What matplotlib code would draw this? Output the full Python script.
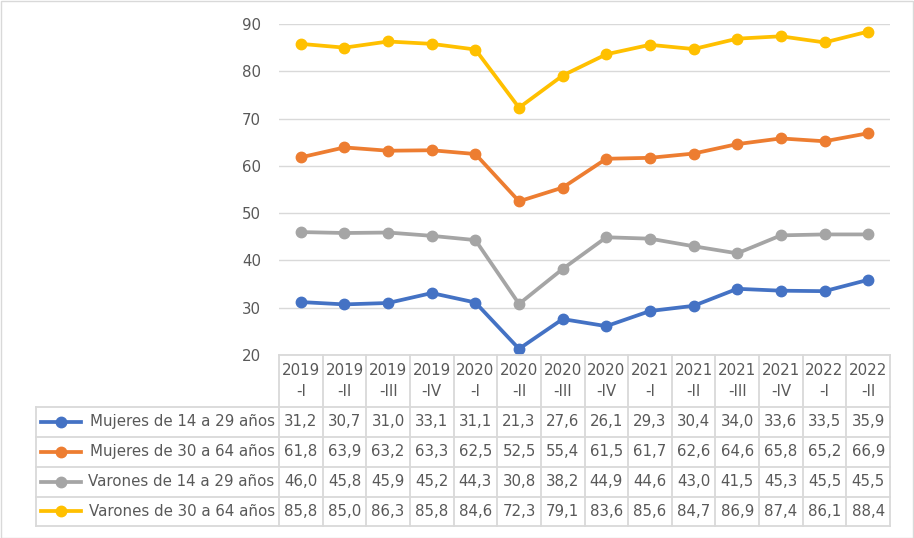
import matplotlib.pyplot as plt
from matplotlib.patches import Rectangle

periods = ["2019\n-I", "2019\n-II", "2019\n-III", "2019\n-IV",
           "2020\n-I", "2020\n-II", "2020\n-III", "2020\n-IV",
           "2021\n-I", "2021\n-II", "2021\n-III", "2021\n-IV",
           "2022\n-I", "2022\n-II"]

mujeres_14_29 = [31.2, 30.7, 31.0, 33.1, 31.1, 21.3, 27.6, 26.1, 29.3, 30.4, 34.0, 33.6, 33.5, 35.9]
mujeres_30_64 = [61.8, 63.9, 63.2, 63.3, 62.5, 52.5, 55.4, 61.5, 61.7, 62.6, 64.6, 65.8, 65.2, 66.9]
varones_14_29 = [46.0, 45.8, 45.9, 45.2, 44.3, 30.8, 38.2, 44.9, 44.6, 43.0, 41.5, 45.3, 45.5, 45.5]
varones_30_64 = [85.8, 85.0, 86.3, 85.8, 84.6, 72.3, 79.1, 83.6, 85.6, 84.7, 86.9, 87.4, 86.1, 88.4]

series = [
    ("Mujeres de 14 a 29 años", mujeres_14_29, "#4472C4"),
    ("Mujeres de 30 a 64 años", mujeres_30_64, "#ED7D31"),
    ("Varones de 14 a 29 años", varones_14_29, "#A5A5A5"),
    ("Varones de 30 a 64 años", varones_30_64, "#FFC000"),
]

W, H = 914, 538
TEXT = "#595959"
GRID = "#D9D9D9"
FS = 10.8

fig = plt.figure(figsize=(W / 100, H / 100), dpi=100)
fig.add_artist(Rectangle((0.5 / W, 0.5 / H), (W - 1.5) / W, (H - 1.5) / H,
                         transform=fig.transFigure, fill=False, ec=GRID, lw=1))

px_left, px_right, px_top, px_bot = 279, 890, 24, 355
ax = fig.add_axes([px_left / W, 1 - px_bot / H, (px_right - px_left) / W, (px_bot - px_top) / H])
n = len(periods)
x = list(range(n))
for name, vals, col in series:
    ax.plot(x, vals, color=col, lw=2.7, marker="o", ms=7.5, solid_capstyle="round")
ax.set_xlim(-0.5, n - 0.5)
ax.set_ylim(20, 90)
ax.set_yticks(range(20, 91, 10))
ax.set_xticks([])
ax.grid(axis="y", color=GRID, lw=1)
ax.set_axisbelow(True)
for s in ax.spines.values():
    s.set_visible(False)
ax.tick_params(axis="y", length=0, pad=13, labelsize=FS, labelcolor=TEXT)

# data table below the plot
col_w = (px_right - px_left) / n
tbl_left, tbl_bot = 36, 526
tax = fig.add_axes([tbl_left / W, 1 - tbl_bot / H, (px_right - tbl_left) / W, (tbl_bot - px_bot) / H])
x0 = -0.5 - (px_left - tbl_left) / col_w
tax.set_xlim(x0, n - 0.5)
tax.set_ylim(tbl_bot, px_bot)
tax.axis("off")

row_edges = [355, 407, 437, 467, 497, 526]
lk = dict(color=GRID, lw=1.3, clip_on=False)
for i in range(n + 1):
    tax.plot([i - 0.5, i - 0.5], [row_edges[0], row_edges[-1]], **lk)
tax.plot([x0, x0], [row_edges[1], row_edges[-1]], **lk)
tax.plot([-0.5, n - 0.5], [row_edges[0], row_edges[0]], **lk)
for yy in row_edges[1:]:
    tax.plot([x0, n - 0.5], [yy, yy], **lk)

for i, lab in enumerate(periods):
    tax.text(i, (row_edges[0] + row_edges[1]) / 2, lab, ha="center", va="center",
             fontsize=FS, color=TEXT, linespacing=1.5)

for r, (name, vals, col) in enumerate(series):
    yc = (row_edges[r + 1] + row_edges[r + 2]) / 2
    tax.plot([x0 + 0.12, x0 + 1.02], [yc, yc], color=col, lw=2.7, clip_on=False)
    tax.plot([x0 + 0.57], [yc], marker="o", ms=7.5, color=col, clip_on=False)
    tax.text(-0.6, yc, name, ha="right", va="center", fontsize=FS, color=TEXT)
    for i, v in enumerate(vals):
        tax.text(i, yc, f"{v:.1f}".replace(".", ","), ha="center", va="center",
                 fontsize=FS, color=TEXT)

fig.savefig("out.png", dpi=100)
